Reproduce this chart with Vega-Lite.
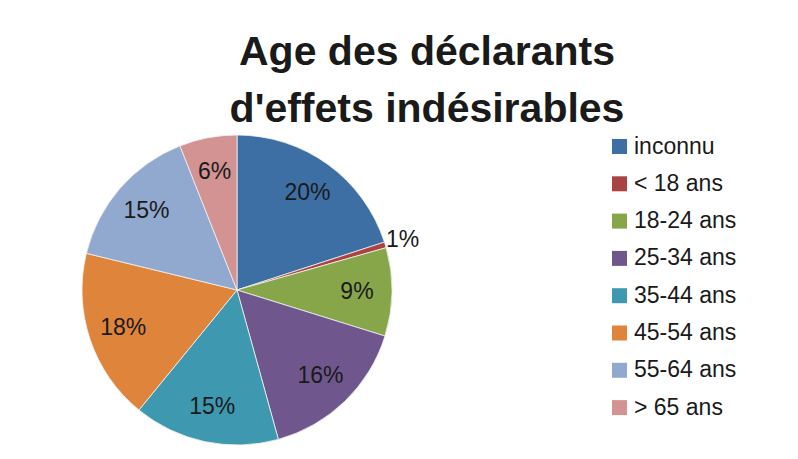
{
  "$schema": "https://vega.github.io/schema/vega-lite/v6.json",
  "width": 460,
  "height": 552,
  "autosize": {"type": "none"},
  "padding": {"left": 7, "top": 14, "right": 331, "bottom": 0},
  "background": "white",
  "view": {"stroke": null},
  "config": {
    "font": "Liberation Sans"
  },
  "title": {
    "text": ["Age des déclarants", "d'effets indésirables"],
    "font": "Liberation Sans",
    "fontSize": 41,
    "fontWeight": "bold",
    "color": "#1a1a1a",
    "lineHeight": 57,
    "anchor": "middle",
    "frame": "group",
    "orient": "top",
    "baseline": "top",
    "offset": 0,
    "dx": 190,
    "dy": 117
  },
  "data": {
    "values": [
      {"i": 1, "k": "inconnu", "v": 0.200},
      {"i": 2, "k": "< 18 ans", "v": 0.006},
      {"i": 3, "k": "18-24 ans", "v": 0.092},
      {"i": 4, "k": "25-34 ans", "v": 0.159},
      {"i": 5, "k": "35-44 ans", "v": 0.152},
      {"i": 6, "k": "45-54 ans", "v": 0.179},
      {"i": 7, "k": "55-64 ans", "v": 0.152},
      {"i": 8, "k": "> 65 ans", "v": 0.060}
    ]
  },
  "encoding": {
    "theta": {"field": "v", "type": "quantitative", "stack": true},
    "order": {"field": "i", "type": "quantitative"}
  },
  "layer": [
    {
      "mark": {"type": "arc", "outerRadius": 155, "stroke": "#f2f2f2", "strokeWidth": 0.8},
      "encoding": {
        "color": {
          "field": "k",
          "type": "nominal",
          "scale": {
            "domain": ["inconnu", "< 18 ans", "18-24 ans", "25-34 ans", "35-44 ans", "45-54 ans", "55-64 ans", "> 65 ans"],
            "range": ["#3d6fa5", "#aa4343", "#87a64a", "#6f578e", "#3e98b0", "#de843b", "#91a9cf", "#d29392"]
          },
          "legend": {
            "title": null,
            "orient": "none",
            "legendX": 601,
            "legendY": 121,
            "padding": 0,
            "symbolType": "square",
            "symbolSize": 225,
            "symbolStrokeWidth": 0,
            "labelFont": "Liberation Sans",
            "labelFontSize": 23,
            "labelColor": "#1a1a1a",
            "labelOffset": 3,
            "rowPadding": 13.3,
            "labelLimit": 300
          }
        }
      }
    },
    {
      "mark": {"type": "text", "radius": 120, "font": "Liberation Sans", "fontSize": 23, "color": "#1a1a1a", "align": "center", "baseline": "middle"},
      "encoding": {
        "text": {"condition": {"test": "datum.v < 0.01", "value": ""}, "field": "v", "type": "quantitative", "format": ".0%"}
      }
    },
    {
      "mark": {"type": "text", "radius": 173, "font": "Liberation Sans", "fontSize": 23, "color": "#1a1a1a", "align": "center", "baseline": "middle"},
      "encoding": {
        "text": {"condition": {"test": "datum.v >= 0.01", "value": ""}, "field": "v", "type": "quantitative", "format": ".0%"}
      }
    }
  ]
}
